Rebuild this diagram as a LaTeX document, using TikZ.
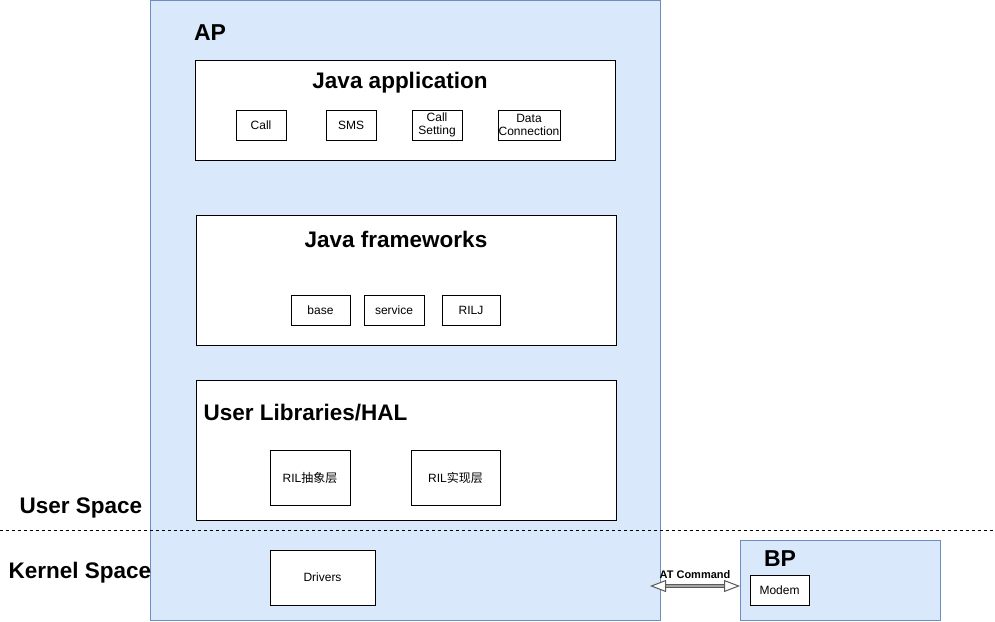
\documentclass[tikz,border=0pt]{standalone}
\usepackage{fontspec}
\setmainfont{Liberation Sans}
\newfontfamily\cjk{Noto Sans CJK SC}
\usetikzlibrary{arrows.meta,positioning}
\definecolor{apFill}{RGB}{218,232,252}
\definecolor{apLine}{RGB}{108,142,191}
\tikzset{
  area/.style={draw=apLine,fill=apFill,anchor=north west,inner sep=0pt},
  layer/.style={draw=black,fill=white,anchor=north west,inner sep=0pt},
  item/.style={draw=black,fill=white,inner sep=0pt,align=center,font=\fontsize{12}{13.5}\selectfont},
  ttl/.style={font=\bfseries\fontsize{23}{23}\selectfont},
  hdr/.style={font=\bfseries\fontsize{22.5}{22.5}\selectfont}
}
\begin{document}
\begin{tikzpicture}[x=1pt,y=-1pt]
  \useasboundingbox (0,0) rectangle (995,621);
  % AP side
  \node[area,minimum width=510pt,minimum height=620pt] (ap) at (150,0) {};
  \node[ttl] (aplbl) at (210,33) {AP};
  % java application layer
  \node[layer,minimum width=420pt,minimum height=100pt] (app) at (195,60) {};
  \node[hdr] (applbl) at (400,83) {Java application};
  \node[item,minimum width=50pt,minimum height=30pt] (call) at (261,125) {Call};
  \node[item,minimum width=50pt,minimum height=30pt] (sms) at (351,125) {SMS};
  \node[item,minimum width=50pt,minimum height=30pt] (callset) at (437,125) {Call\\Setting};
  \node[item,minimum width=62pt,minimum height=30pt] (data) at (529,125) {Data\\Connection};
  % frameworks layer
  \node[layer,minimum width=420pt,minimum height=130pt] (fw) at (196,215) {};
  \node[hdr] (fwlbl) at (396,239) {Java frameworks};
  \node[item,minimum width=59pt,minimum height=30pt] (base) at (320.5,310) {base};
  \node[item,minimum width=60pt,minimum height=30pt] (service) at (394,310) {service};
  \node[item,minimum width=58pt,minimum height=30pt] (rilj) at (471,310) {RILJ};
  % user libraries / HAL
  \node[layer,minimum width=420pt,minimum height=140pt] (hal) at (196,380) {};
  \node[hdr,anchor=west] (hallbl) at (200,413) {User Libraries/HAL};
  \node[item,minimum width=80pt,minimum height=55pt] (rilabs) at (310,477.5) {RIL{\cjk 抽象层}};
  \node[item,minimum width=89pt,minimum height=55pt] (rilimpl) at (455.5,477.5) {RIL{\cjk 实现层}};
  % kernel
  \node[item,minimum width=105pt,minimum height=55pt] (drv) at (322.5,577.5) {Drivers};
  % space split
  \coordinate (splitL) at (0,530);
  \coordinate (splitR) at (995,530);
  \draw[dashed,line width=0.8pt] (splitL) -- (splitR);
  \node[hdr] (usr) at (81,508) {User Space};
  \node[hdr] (krn) at (80,573) {Kernel Space};
  % BP side
  \node[area,minimum width=200pt,minimum height=80pt] (bp) at (740,540) {};
  \node[ttl] (bplbl) at (780,559) {BP};
  \node[item,minimum width=59pt,minimum height=30pt] (modem) at (779.5,590) {Modem};
  % AT command link
  \coordinate (atL) at (650,586);
  \draw[gray!70!black,double=gray!70,double distance=2.5pt,line width=1pt,
    {Triangle[open,width=12pt,length=16pt,fill=white]}-{Triangle[open,width=12pt,length=16pt,fill=white]}]
    (atL) -- (bp.west |- atL) node[midway,above=4pt,black,font=\bfseries\fontsize{11}{11}\selectfont] {AT Command};
\end{tikzpicture}
\end{document}
